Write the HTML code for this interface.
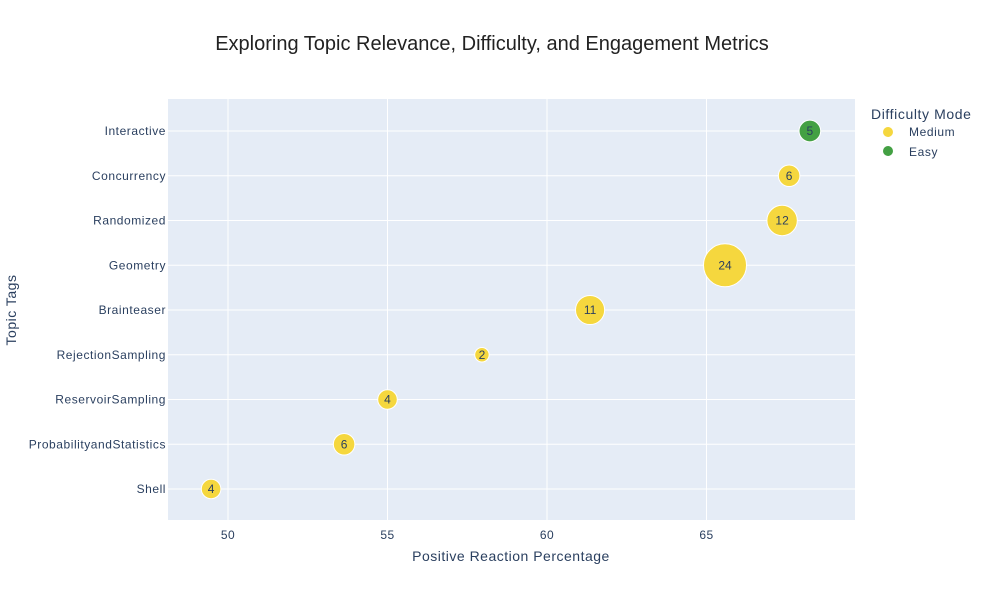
<!DOCTYPE html>
<html><head><meta charset="utf-8"><style>
body{margin:0;background:#fff;font-family:"Liberation Sans",Arial,sans-serif;}
svg text{font-family:"Liberation Sans",Arial,sans-serif;}
</style></head><body>
<svg id="chart" width="984" height="600" xmlns="http://www.w3.org/2000/svg">
<rect width="984" height="600" fill="#fff"/>
<text x="492" y="50" text-anchor="middle" font-size="20" fill="#222">Exploring Topic Relevance, Difficulty, and Engagement Metrics</text>
<rect x="168" y="99" width="687" height="421" fill="#e5ecf6"/>
<g id="grid"></g>
<g id="points"></g>
<g id="xticks"></g>
<g id="yticks"></g>
<text x="511" y="561" text-anchor="middle" font-size="14" letter-spacing="0.5" fill="#2a3f5f">Positive Reaction Percentage</text>
<text transform="translate(16,310) rotate(-90)" text-anchor="middle" font-size="14" letter-spacing="0.5" fill="#2a3f5f">Topic Tags</text>
<g>
<text x="871" y="119" font-size="14" letter-spacing="0.6" fill="#2a3f5f">Difficulty Mode</text>
<g><circle cx="888" cy="132" r="5" fill="#f5d73e"/><text x="909" y="136" font-size="12" letter-spacing="0.6" fill="#2a3f5f">Medium</text></g>
<g><circle cx="888" cy="151" r="5" fill="#43a043"/><text x="909" y="156" font-size="12" letter-spacing="0.6" fill="#2a3f5f">Easy</text></g>
</g>
</svg>
<script>
const categories=["Interactive","Concurrency","Randomized","Geometry","Brainteaser","RejectionSampling","ReservoirSampling","ProbabilityandStatistics","Shell"];
const reactions=[68.24,67.59,67.37,65.58,61.35,57.96,55.0,53.64,49.47];
const counts=[5,6,12,24,11,2,4,6,4];
const difficulty=["Easy","Medium","Medium","Medium","Medium","Medium","Medium","Medium","Medium"];
const xTicks=[50,55,60,65];
const NS="http://www.w3.org/2000/svg";
const xs=v=>228+(v-50)*31.9;
const ys=i=>131+i*44.75;
const rs=c=>21.5*Math.sqrt(c/24)+ (c<6?1:0);
function mk(t,a,p){const e=document.createElementNS(NS,t);for(const k in a)e.setAttribute(k,a[k]);p.appendChild(e);return e;}
const grid=document.getElementById('grid'),pts=document.getElementById('points'),xt=document.getElementById('xticks'),yt=document.getElementById('yticks');
xTicks.forEach(v=>{
  const l=mk('line',{x1:xs(v),x2:xs(v),y1:99,y2:520,stroke:'#fff','stroke-width':1},grid);
  
  
  const t=mk('text',{x:xs(v),y:539,'text-anchor':'middle','font-size':12,'letter-spacing':0.5,fill:'#2a3f5f'},xt);t.textContent=v;
  
  
});
categories.forEach((c,i)=>{
  const l=mk('line',{x1:168,x2:855,y1:ys(i),y2:ys(i),stroke:'#fff','stroke-width':1},grid);
  
  
  const t=mk('text',{x:166,y:ys(i)+4,'text-anchor':'end','font-size':12,'letter-spacing':0.55,fill:'#2a3f5f'},yt);t.textContent=c;
  
  
});
categories.forEach((c,i)=>{
  const g=mk('g',{},pts);
  
  
  mk('circle',{cx:xs(reactions[i]),cy:ys(i),r:rs(counts[i]),fill:difficulty[i]==='Easy'?'#43a043':'#f5d73e',stroke:'#fff','stroke-width':1},g);
  const t=mk('text',{x:xs(reactions[i]),y:ys(i)+4,'text-anchor':'middle','font-size':12,fill:'#2a3f5f'},g);t.textContent=counts[i];
});
</script>
</body></html>
